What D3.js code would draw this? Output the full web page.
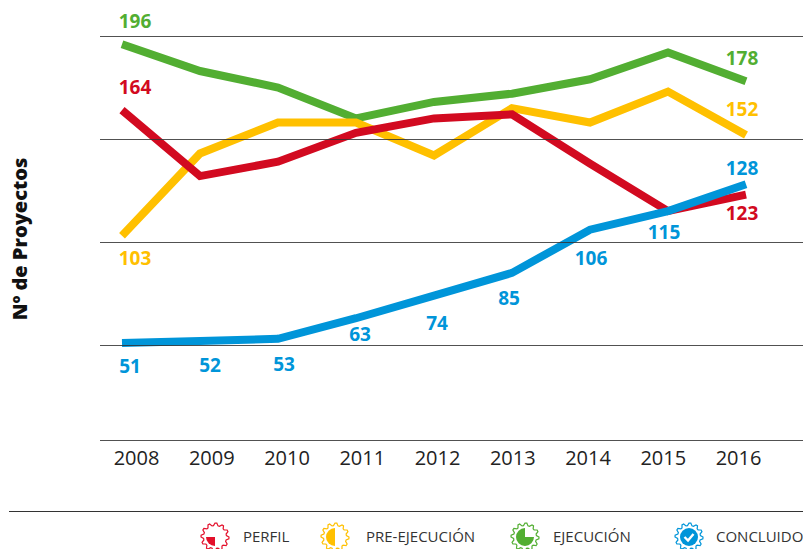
<!DOCTYPE html>
<html>
<head>
<meta charset="utf-8">
<script src="https://d3js.org/d3.v7.min.js"></script>
<style>
    body { margin: 0; background: #fff; }
    svg { display: block; }
    text { font-family: "Open Sans", sans-serif; }
    .grid line { stroke: #333; stroke-opacity: 0.85; }
    .year-axis text { font-size: 20px; fill: #222; }
    .value { font-size: 19px; font-weight: 700; text-anchor: middle; }
    .legend-label { font-size: 15px; fill: #333; }
</style>
</head>
<body>
<div id="chart"></div>
<script>
    // Data
    const years = ['2008', '2009', '2010', '2011', '2012', '2013', '2014', '2015', '2016'];
    const perfil = [164, 132, 139, 153, 160, 162, 138, 115, 123];
    const preEjecucion = [103, 143, 158, 158, 142, 165, 158, 173, 152];
    const ejecucion = [196, 183, 175, 160, 168, 172, 179, 192, 178];
    const concluido = [51, 52, 53, 63, 74, 85, 106, 115, 128];
    const gridValues = [200, 150, 100, 50];
    const seriesNames = ['PERFIL', 'PRE-EJECUCIÓN', 'EJECUCIÓN', 'CONCLUIDO'];

    const width = 803;
    const height = 549;

    const svg = d3.select('#chart').append('svg')
        .attr('width', width)
        .attr('height', height);

    // Lines and year labels do not share x positions in the original
    const x = d3.scalePoint().domain(years).range([122, 746]);
    const xLabels = d3.scalePoint().domain(years).range([136, 738]);
    const y = d3.scaleLinear().domain([50, 200]).range([345, 36]);

    const series = [
        { name: 'EJECUCIÓN', values: ejecucion, color: '#52ae32' },
        { name: 'PRE-EJECUCIÓN', values: preEjecucion, color: '#ffc000' },
        { name: 'PERFIL', values: perfil, color: '#d20a20' },
        { name: 'CONCLUIDO', values: concluido, color: '#0095d9' }
    ];

    const line = d3.line()
        .x((d, i) => x(years[i]))
        .y(d => y(d));

    svg.selectAll('.series')
        .data(series)
        .enter()
        .append('path')
        .attr('class', 'series')
        .attr('fill', 'none')
        .attr('stroke', d => d.color)
        .attr('stroke-width', 8)
        .attr('d', d => line(d.values));

    // Grid sits on top of the lines, plus the baseline which is off the scale
    const grid = svg.append('g').attr('class', 'grid');
    grid.selectAll('line')
        .data(gridValues.map(v => y(v)).concat([440]))
        .enter()
        .append('line')
        .attr('x1', 100)
        .attr('x2', width)
        .attr('y1', d => d + 0.5)
        .attr('y2', d => d + 0.5);

    // Year labels
    const yearAxis = svg.append('g')
        .attr('class', 'year-axis')
        .attr('transform', 'translate(0,450)')
        .call(d3.axisBottom(xLabels).tickSize(0).tickPadding(1));
    yearAxis.select('.domain').remove();

    // Value labels, placed as offsets from the line point
    const labelOffsets = {
        'EJECUCIÓN': { 2008: [13, -16], 2016: [-4, -16] },
        'PRE-EJECUCIÓN': { 2008: [13, 29], 2016: [-4, -19] },
        'PERFIL': { 2008: [13, -16], 2016: [-4, 25] },
        'CONCLUIDO': {
            2008: [8, 30], 2009: [10, 31], 2010: [6, 32], 2011: [4, 23], 2012: [3, 34],
            2013: [-3, 32], 2014: [1, 35], 2015: [-4, 28], 2016: [-4, -9]
        }
    };

    series.forEach(s => {
        const offsets = labelOffsets[s.name];
        const labelled = years.filter(yr => offsets[yr]);
        svg.selectAll(null)
            .data(labelled)
            .enter()
            .append('text')
            .attr('class', 'value')
            .attr('fill', s.color)
            .attr('x', yr => x(yr) + offsets[yr][0])
            .attr('y', yr => y(s.values[years.indexOf(yr)]) + offsets[yr][1])
            .text(yr => s.values[years.indexOf(yr)]);
    });

    // Y axis title
    svg.append('text')
        .attr('transform', 'translate(27,239) rotate(-90)')
        .style('text-anchor', 'middle')
        .style('font-size', '20px')
        .style('font-weight', '800')
        .style('fill', '#111')
        .text('Nº de Proyectos');

    // Legend rule
    svg.append('line')
        .attr('x1', 9)
        .attr('x2', width)
        .attr('y1', 511.5)
        .attr('y2', 511.5)
        .attr('stroke', '#333')
        .attr('stroke-width', 1);

    // Legend: gear outline with a filled pie share inside
    const teeth = 12;
    const gearPoints = d3.range(teeth * 4).map(i => {
        const a = (i / (teeth * 4)) * 2 * Math.PI;
        return [a, i % 4 < 2 ? 14 : 11.5];
    });
    const gear = d3.lineRadial().curve(d3.curveLinearClosed)(gearPoints);
    const pie = d3.arc().innerRadius(0).outerRadius(9);

    const legendItems = [
        { name: seriesNames[0], color: '#e30f2a', iconX: 215, textX: 243, start: Math.PI, end: 1.5 * Math.PI },
        { name: seriesNames[1], color: '#ffc000', iconX: 335, textX: 366, start: Math.PI, end: 2 * Math.PI },
        { name: seriesNames[2], color: '#52ae32', iconX: 525, textX: 553, start: 0.5 * Math.PI, end: 2 * Math.PI },
        { name: seriesNames[3], color: '#0095d9', iconX: 689, textX: 716, start: 0, end: 2 * Math.PI }
    ];

    const legend = svg.selectAll('.legend')
        .data(legendItems)
        .enter()
        .append('g')
        .attr('class', 'legend');

    const icon = legend.append('g')
        .attr('transform', d => `translate(${d.iconX},537)`);
    icon.append('path')
        .attr('d', gear)
        .attr('fill', 'none')
        .attr('stroke', d => d.color)
        .attr('stroke-width', 1.2);
    icon.append('path')
        .attr('d', d => pie({ startAngle: d.start, endAngle: d.end }))
        .attr('fill', d => d.color);
    icon.filter(d => d.name === 'CONCLUIDO').append('path')
        .attr('d', 'M-4.5,0L-1,3.5L4.5,-3')
        .attr('fill', 'none')
        .attr('stroke', '#fff')
        .attr('stroke-width', 2.4);

    legend.append('text')
        .attr('class', 'legend-label')
        .attr('x', d => d.textX)
        .attr('y', 542)
        .text(d => d.name);
</script>
</body>
</html>
